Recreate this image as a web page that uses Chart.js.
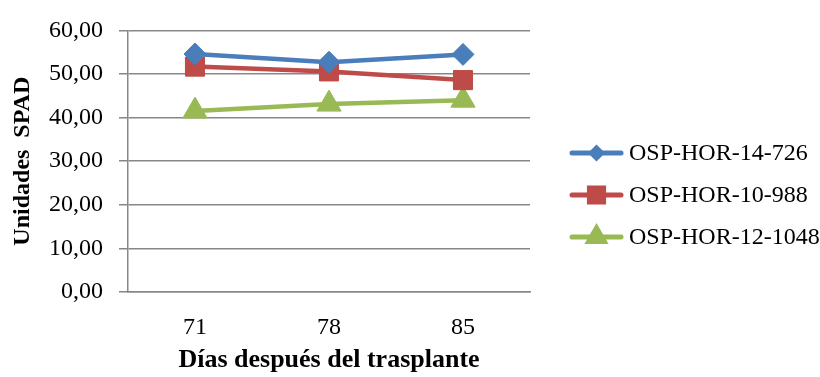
<!DOCTYPE html>
<html>
<head>
<meta charset="utf-8">
<script src="https://cdn.jsdelivr.net/npm/chart.js@4"></script>
<style>
  html, body { margin: 0; padding: 0; background: #fff; }
  #wrap { width: 820px; height: 377px; }
</style>
</head>
<body>
<div id="wrap"><canvas id="spadChart" width="820" height="377"></canvas></div>
<script>
// SPAD readings per genotype
const dias = ['71', '78', '85'];
const osp14726 = [54.6, 52.7, 54.5];
const osp10988 = [51.7, 50.6, 48.6];
const osp121048 = [41.5, 43.1, 44.0];
const yTicks = [0, 10, 20, 30, 40, 50, 60];

const serif = '"Liberation Serif", "Times New Roman", serif';
const gridGray = '#878787';

// legend drawn by hand: line + marker + label, stacked on the right
const sideLegend = {
  id: 'sideLegend',
  afterDraw(chart) {
    const ctx = chart.ctx;
    const rows = [153, 195, 237];
    const legendMarks = [
      { style: 'rectRot', r: 5 },
      { style: 'rect', r: 10 },
      { style: 'triangle', r: 9 }
    ];
    chart.data.datasets.forEach((ds, i) => {
      const y = rows[i];
      ctx.save();
      ctx.strokeStyle = ds.borderColor;
      ctx.lineWidth = 5;
      ctx.lineCap = 'round';
      ctx.beginPath();
      ctx.moveTo(572, y);
      ctx.lineTo(621, y);
      ctx.stroke();
      ctx.fillStyle = ds.backgroundColor;
      ctx.strokeStyle = ds.borderColor;
      Chart.helpers.drawPoint(ctx, {
        pointStyle: legendMarks[i].style,
        radius: legendMarks[i].r,
        rotation: 0,
        borderWidth: 1
      }, 596.5, y);
      ctx.fillStyle = '#000';
      ctx.font = '24px ' + serif;
      ctx.textBaseline = 'middle';
      ctx.textAlign = 'left';
      ctx.fillText(ds.label, 629, y + 1);
      ctx.restore();
    });
  }
};

new Chart(document.getElementById('spadChart'), {
  type: 'line',
  data: {
    labels: dias,
    datasets: [
      {
        label: 'OSP-HOR-14-726',
        data: osp14726,
        borderColor: '#4A7EBB',
        backgroundColor: '#4A7EBB',
        borderWidth: 4.5,
        pointStyle: 'rectRot',
        pointRadius: 11,
        pointBorderWidth: 1
      },
      {
        label: 'OSP-HOR-10-988',
        data: osp10988,
        borderColor: '#BE4B48',
        backgroundColor: '#BE4B48',
        borderWidth: 4.5,
        pointStyle: 'rect',
        pointRadius: 13.5,
        pointBorderWidth: 1
      },
      {
        label: 'OSP-HOR-12-1048',
        data: osp121048,
        borderColor: '#98B954',
        backgroundColor: '#98B954',
        borderWidth: 4.5,
        pointStyle: 'triangle',
        pointRadius: 14,
        pointBorderWidth: 1
      }
    ]
  },
  options: {
    responsive: false,
    animation: false,
    layout: { padding: { left: 0, right: 290, top: 23, bottom: 0 } },
    plugins: {
      legend: { display: false },
      tooltip: { enabled: false }
    },
    scales: {
      x: {
        offset: true,
        grid: { display: true, drawOnChartArea: false, drawTicks: false },
        border: { display: true, color: gridGray, width: 1.5 },
        ticks: {
          color: '#000',
          padding: 21,
          font: { family: serif, size: 24 }
        },
        title: {
          display: true,
          text: 'Días después del trasplante',
          color: '#000',
          padding: { top: 0, bottom: 1 },
          font: { family: serif, size: 26, weight: 'bold' }
        },
        afterFit(scale) { scale.height = 85; }
      },
      y: {
        min: 0,
        max: 60,
        afterBuildTicks(scale) {
          scale.ticks = yTicks.map(v => ({ value: v }));
        },
        grid: { color: gridGray, lineWidth: 1.5, tickLength: 9 },
        border: { display: true, color: gridGray, width: 1.5 },
        ticks: {
          color: '#000',
          padding: 16,
          font: { family: serif, size: 24 },
          callback: v => v.toFixed(2).replace('.', ',')
        },
        title: {
          display: true,
          text: 'Unidades  SPAD',
          color: '#000',
          padding: { top: 8, bottom: 0 },
          font: { family: serif, size: 24, weight: 'bold' }
        },
        afterFit(scale) { scale.width = 128; }
      }
    }
  },
  plugins: [sideLegend]
});
</script>
</body>
</html>
